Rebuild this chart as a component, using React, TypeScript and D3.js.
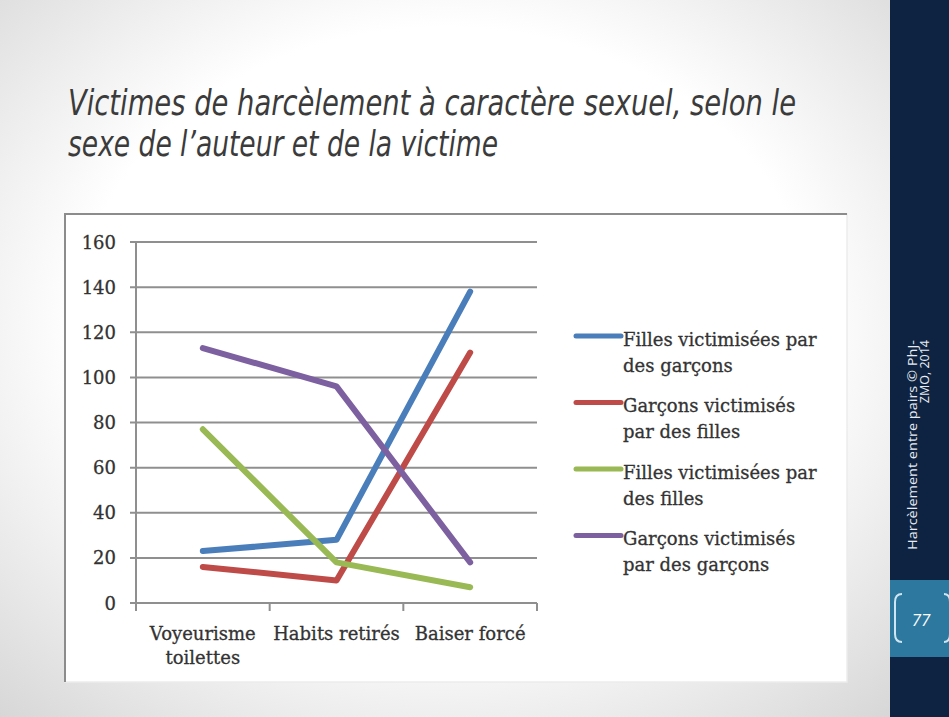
import React, { useEffect } from "react";
import * as d3 from "d3";

const categories = ["Voyeurisme toilettes", "Habits retirés", "Baiser forcé"];
const categoryLines = [["Voyeurisme", "toilettes"], ["Habits retirés"], ["Baiser forcé"]];
const yTicks = [0, 20, 40, 60, 80, 100, 120, 140, 160];

const seriesNames = [
  ["Filles victimisées par", "des garçons"],
  ["Garçons victimisés", "par des filles"],
  ["Filles victimisées par", "des filles"],
  ["Garçons victimisés", "par des garçons"],
];
const fillesParGarcons = [23, 28, 138];
const garconsParFilles = [16, 10, 111];
const fillesParFilles = [77, 18, 7];
const garconsParGarcons = [113, 96, 18];
const seriesValues = [fillesParGarcons, garconsParFilles, fillesParFilles, garconsParGarcons];
const seriesColors = ["#4a7ebb", "#be4b48", "#98b954", "#7d60a0"];

const titleLines = [
  "Victimes de harcèlement à caractère sexuel, selon le",
  "sexe de l’auteur et de la victime",
];
const footerLines = ["Harcèlement entre pairs © PhJ-", "ZMO, 2014"];
const pageNumber = "77";

export default function App() {
  useEffect(() => {
    document.body.style.margin = "0";
  }, []);

  const x = d3.scaleBand<string>().domain(categories).range([136, 537]).padding(0);
  const y = d3.scaleLinear().domain([0, 160]).range([603, 242]);
  const cx = (c: string) => (x(c) as number) + x.bandwidth() / 2;
  const line = d3
    .line<number>()
    .x((_, i) => cx(categories[i]))
    .y((d) => y(d));

  const serif = "'DejaVu Serif', 'Liberation Serif', serif";
  const boundaries = [...categories.map((c) => x(c) as number), 537];
  const textFill = "#333333";

  return (
    <svg
      width={949}
      height={717}
      style={{ position: "absolute", left: 0, top: 0, display: "block" }}
    >
      <defs>
        <radialGradient id="bg" cx="0.5" cy="0.45" r="0.75">
          <stop offset="0.55" stopColor="#ffffff" />
          <stop offset="1" stopColor="#d6d6d6" />
        </radialGradient>
      </defs>
      <rect x={0} y={0} width={890} height={717} fill="url(#bg)" />

      {/* title */}
      <g fontFamily="'Liberation Sans Narrow', 'DejaVu Sans Condensed', 'Open Sans', sans-serif" fontStyle="italic" fill="#3b3b3b" fontSize={35}>
        <text x={68} y={115} textLength={728} lengthAdjust="spacingAndGlyphs">{titleLines[0]}</text>
        <text x={68} y={156} textLength={430} lengthAdjust="spacingAndGlyphs">{titleLines[1]}</text>
      </g>

      {/* chart frame */}
      <rect x={65} y={214} width={782} height={468} fill="#ffffff" stroke="#ececec" strokeWidth={1.5} />
      <path d="M65,682 L65,214 L847,214" fill="none" stroke="#8c8c8c" strokeWidth={2} />

      {/* gridlines */}
      {yTicks.map((t) => (
        <line key={t} x1={130} x2={537} y1={y(t)} y2={y(t)} stroke="#8f8f8f" strokeWidth={2} />
      ))}
      <line x1={136} x2={136} y1={y(160)} y2={y(0) + 1} stroke="#8f8f8f" strokeWidth={2} />
      {boundaries.map((b, i) => (
        <line key={i} x1={b} x2={b} y1={y(0)} y2={y(0) + 8} stroke="#8f8f8f" strokeWidth={2} />
      ))}

      {/* y tick labels */}
      <g fontFamily={serif} fontSize={18} fill={textFill} stroke={textFill} strokeWidth={0.3} textAnchor="end">
        {yTicks.map((t) => (
          <text key={t} x={116} y={y(t) + 6.5}>{t}</text>
        ))}
      </g>

      {/* x labels */}
      <g fontFamily={serif} fontSize={18} fill={textFill} stroke={textFill} strokeWidth={0.3} textAnchor="middle">
        {categories.map((c, i) =>
          categoryLines[i].map((l, j) => (
            <text key={c + j} x={cx(c)} y={640 + j * 24}>{l}</text>
          ))
        )}
      </g>

      {/* series */}
      {seriesValues.map((vals, i) => (
        <path
          key={i}
          d={line(vals) || ""}
          fill="none"
          stroke={seriesColors[i]}
          strokeWidth={6}
          strokeLinejoin="round"
          strokeLinecap="round"
        />
      ))}

      {/* legend */}
      {seriesNames.map((name, i) => {
        const ly = 336 + i * 66.5;
        return (
          <g key={i}>
            <line x1={576} x2={621} y1={ly} y2={ly} stroke={seriesColors[i]} strokeWidth={5} strokeLinecap="round" />
            {name.map((l, j) => (
              <text key={j} x={623} y={ly + 9.5 + j * 26} fontFamily={serif} fontSize={18} fill={textFill} stroke={textFill} strokeWidth={0.3}>{l}</text>
            ))}
          </g>
        );
      })}

      {/* sidebar */}
      <rect x={890} y={0} width={59} height={717} fill="#0e2341" />
      <rect x={890} y={580} width={59} height={77} fill="#2c789f" />
      <path d="M902,594 Q895,594 895,602 L895,634 Q895,642 902,642" fill="none" stroke="#cfe6f2" strokeWidth={2} />
      <path d="M944,594 Q950,594 950,602 L950,634 Q950,642 944,642" fill="none" stroke="#cfe6f2" strokeWidth={2} />
      <text x={921} y={626} textAnchor="middle" fontFamily="'Open Sans', sans-serif" fontStyle="italic" fontSize={17} fill="#ffffff">{pageNumber}</text>
      <g fontFamily="'Open Sans', sans-serif" fontSize={12.5} fill="#e8ecf2" textAnchor="end">
        <text transform="translate(917,340) rotate(-90)" textLength={210} lengthAdjust="spacingAndGlyphs">{footerLines[0]}</text>
        <text transform="translate(929,340) rotate(-90)">{footerLines[1]}</text>
      </g>
    </svg>
  );
}
